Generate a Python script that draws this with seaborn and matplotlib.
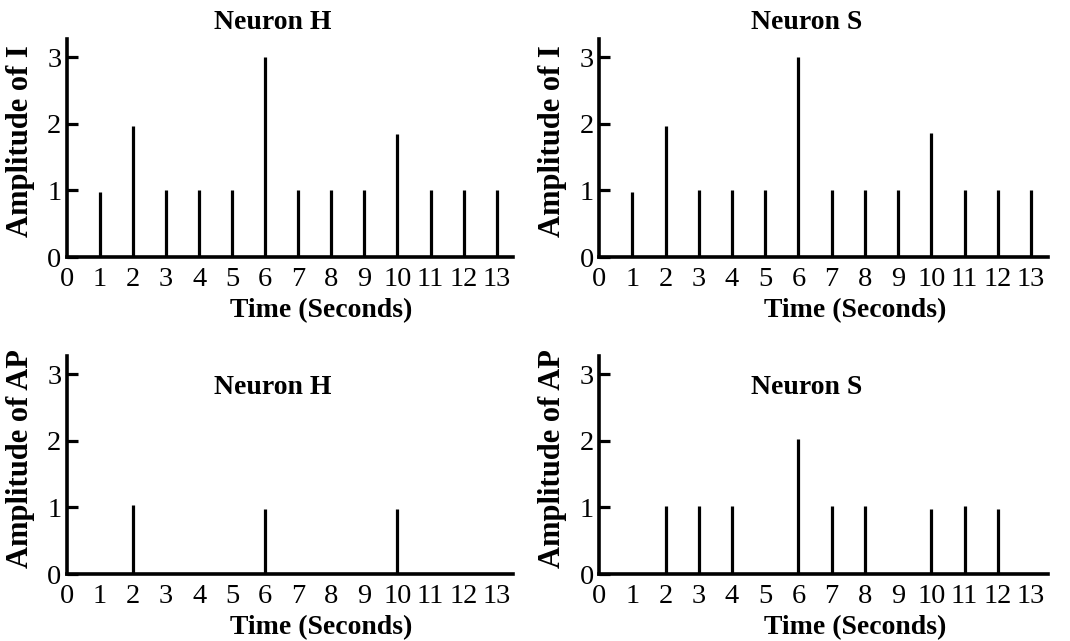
import matplotlib
matplotlib.use("Agg")
import matplotlib.pyplot as plt
import pandas as pd
import seaborn as sns

# time points (seconds) and amplitudes
time_i = [1, 2, 3, 4, 5, 6, 7, 8, 9, 10, 11, 12, 13]
amp_i_h = [0.98, 1.97, 1.0, 1.0, 1.0, 3.0, 1.0, 1.0, 1.0, 1.85, 1.0, 1.0, 1.0]
amp_i_s = [0.98, 1.97, 1.0, 1.0, 1.0, 3.0, 1.0, 1.0, 1.0, 1.86, 1.0, 1.0, 1.0]

time_ap_h = [2, 6, 10]
amp_ap_h = [1.03, 0.98, 0.98]

time_ap_s = [2, 3, 4, 6, 7, 8, 10, 11, 12]
amp_ap_s = [1.02, 1.02, 1.02, 2.02, 1.02, 1.02, 0.98, 1.02, 0.98]

x_ticks = list(range(0, 14))
y_ticks = [0, 1, 2, 3]

panels = [
    # (time, amplitude, title, ylabel, axes rect, title y in axes coords)
    (time_i, amp_i_h, "Neuron H", "Amplitude of I", [0.0626, 0.599, 0.417, 0.340], 1.075),
    (time_i, amp_i_s, "Neuron S", "Amplitude of I", [0.560, 0.599, 0.419, 0.340], 1.075),
    (time_ap_h, amp_ap_h, "Neuron H", "Amplitude of AP", [0.0626, 0.1045, 0.417, 0.340], 0.858),
    (time_ap_s, amp_ap_s, "Neuron S", "Amplitude of AP", [0.560, 0.1045, 0.419, 0.340], 0.858),
]

sns.set_theme(style="ticks")
plt.rcParams["font.family"] = ["Liberation Serif", "DejaVu Serif"]

fig = plt.figure(figsize=(10.7, 6.41), dpi=100)

for t, amp, title, ylabel, rect, title_y in panels:
    ax = fig.add_axes(rect)
    df = pd.DataFrame({"time": t, "amp": amp})
    ax.vlines(df["time"], 0, df["amp"], color="black", linewidth=2.3)

    ax.set_xlim(0, 13.5)
    ax.set_ylim(0, 3.27)
    ax.set_xticks(x_ticks)
    ax.set_yticks(y_ticks)
    ax.tick_params(axis="x", length=0, pad=7, labelsize=20.5, colors="black")
    ax.tick_params(axis="y", direction="in", length=8, width=2.3, pad=4,
                   labelsize=20.5, colors="black")

    sns.despine(ax=ax)
    for side in ["left", "bottom"]:
        ax.spines[side].set_linewidth(2.6)
        ax.spines[side].set_color("black")

    ax.set_ylabel(ylabel, fontsize=22, fontweight="bold", color="black")
    ax.yaxis.set_label_coords(-0.072, 0.53)
    ax.set_xlabel("Time (Seconds)", fontsize=20, fontweight="bold", color="black")
    ax.xaxis.set_label_coords(0.57, -0.19)
    ax.text(0.462, title_y, title, transform=ax.transAxes, ha="center", va="center",
            fontsize=20, fontweight="bold", color="black")

fig.savefig("out.png", dpi=100)
